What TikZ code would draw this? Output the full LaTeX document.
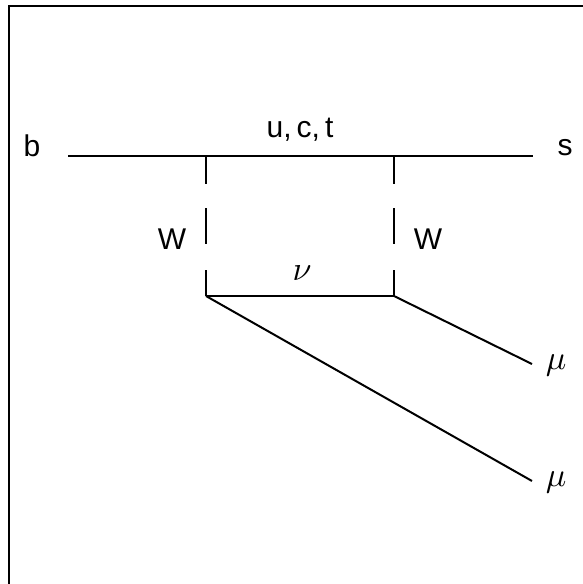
\documentclass[tikz,border=0pt]{standalone}
\usepackage{graphicx}
\usepackage{fontspec}
\setmainfont{Liberation Sans}
\begin{document}
\begin{tikzpicture}[x=1pt,y=-1pt,
  lbl/.style={inner sep=0pt,font=\fontsize{30}{32}\selectfont},
  glbl/.style={inner sep=0pt,font=\normalsize},
  prop/.style={line width=2pt},
  wprop/.style={line width=2pt,dash pattern=on 28pt off 24pt on 36pt off 26pt on 30pt},
  frame/.style={line width=1.5pt}]
\useasboundingbox (0,0) rectangle (583,584);
\coordinate (fl) at (9,584);
\coordinate (fc) at (9,6);
\coordinate (fr) at (583,6);
\draw[frame] (fl) -- (fc) -- (fr);
% vertices
\coordinate (bin) at (68,156);
\coordinate (sout) at (533,156);
\coordinate (v1) at (206,156);
\coordinate (v2) at (394,156);
\coordinate (v3) at (206,296);
\coordinate (v4) at (394,296);
\coordinate (m1) at (532,364);
\coordinate (m2) at (532,481);
% labels
\node[lbl] (b) at (32,146) {b};
\node[lbl] (s) at (565,148) {s};
\node[lbl] (uct) at (300,130) {u,\,c,\,t};
\node[lbl] (wl) at (172,239) {W};
\node[lbl] (wr) at (428,239) {W};
\node[glbl] (nu) at (302,273) {\scalebox{3.4}{$\nu$}};
\node[glbl] (mu1) at (556,365) {\scalebox{3.4}{$\mu$}};
\node[glbl] (mu2) at (556,482) {\scalebox{3.4}{$\mu$}};
% lines
\draw[prop] (bin) -- (sout);
\draw[wprop] (v1) -- (v3);
\draw[wprop] (v2) -- (v4);
\draw[prop] (v3) -- (v4);
\draw[prop] (v3) -- (m2);
\draw[prop] (v4) -- (m1);
\end{tikzpicture}
\end{document}
